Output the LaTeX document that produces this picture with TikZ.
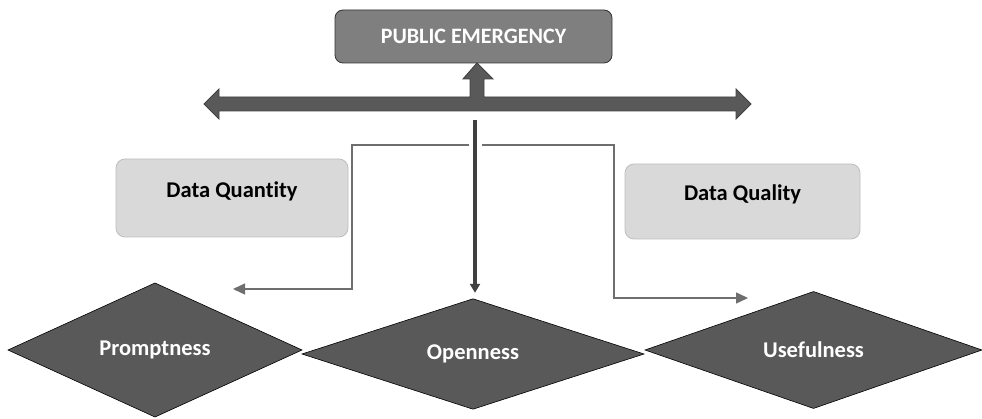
\documentclass[tikz,border=0pt]{standalone}
\usepackage{fontspec}
\setmainfont{Carlito}[Ligatures=NoCommon]
\usetikzlibrary{shapes.geometric,arrows.meta}
\definecolor{darkfill}{HTML}{595959}
\definecolor{midfill}{HTML}{7F7F7F}
\definecolor{lightfill}{HTML}{D9D9D9}
\definecolor{lightedge}{HTML}{BFBFBF}
\definecolor{thinline}{HTML}{6E6E6E}
\tikzset{
  headbox/.style={draw=black!80, line width=0.8pt, fill=midfill, rounded corners=8pt,
    text=white, font=\bfseries\fontsize{22}{26}\selectfont, inner sep=0pt, outer sep=0pt},
  factorbox/.style={draw=lightedge, line width=0.8pt, fill=lightfill, rounded corners=9pt,
    text=black, font=\bfseries\fontsize{22.5}{26}\selectfont, inner sep=0pt, outer sep=0pt,
    text depth=17pt},
  goal/.style={diamond, draw=black, line width=0.6pt, fill=darkfill, text=white,
    font=\bfseries\fontsize{22.5}{26}\selectfont, inner sep=0pt, outer sep=0pt},
  blockarrow/.style={draw=black!75, line width=0.9pt, fill=darkfill, line join=miter},
  elbow/.style={draw=thinline, line width=1.4pt,
    -{Triangle[width=11pt,length=12pt]}},
  mainline/.style={draw=black!75, line width=3.4pt,
    -{Triangle[width=10pt,length=9pt]}, shorten >=6pt}
}
\begin{document}
\begin{tikzpicture}[x=1pt, y=-1pt]
\useasboundingbox (0,0) rectangle (982,419);

% top box
\node[headbox, minimum width=277pt, minimum height=53pt] (emergency) at (473.5,36.5) {PUBLIC EMERGENCY};

% factor boxes
\node[factorbox, minimum width=232pt, minimum height=78pt] (quantity) at (232,198) {Data Quantity};
\node[factorbox, minimum width=235pt, minimum height=75pt] (quality) at (742.5,201.5) {Data Quality};

% outcome diamonds
\node[goal, minimum width=294pt, minimum height=134pt] (prompt) at (155,350) {Promptness};
\node[goal, minimum width=342pt, minimum height=108pt] (open) at (473,354) {Openness};
\node[goal, minimum width=337pt, minimum height=108pt] (useful) at (813.5,350) {Usefulness};

% T-shaped block arrow: wide double arrow with a branch up to the top box
\draw[blockarrow]
  (204,104) -- (219,89) -- (219,97) -- (470,97) -- (470,79) -- (463,79)
  -- (emergency.south -| 477,0) -- (493,79) -- (484,79) -- (484,97)
  -- (736,97) -- (736,89) -- (751,104) -- (736,119) -- (736,111)
  -- (219,111) -- (219,119) -- cycle;

% central arrow down to Openness
\coordinate (stem) at (475,120);
\draw[mainline] (stem) -- (stem |- open.north);

% elbow connectors
\coordinate (lstart) at (469,145);
\coordinate (lend) at (233,289);
\draw[elbow] (lstart) -- (352,145) -- (352,289) -- (lend);
\coordinate (rstart) at (482,145);
\coordinate (rend) at (748,298);
\draw[elbow] (rstart) -- (614,145) -- (614,298) -- (rend);
\end{tikzpicture}
\end{document}
